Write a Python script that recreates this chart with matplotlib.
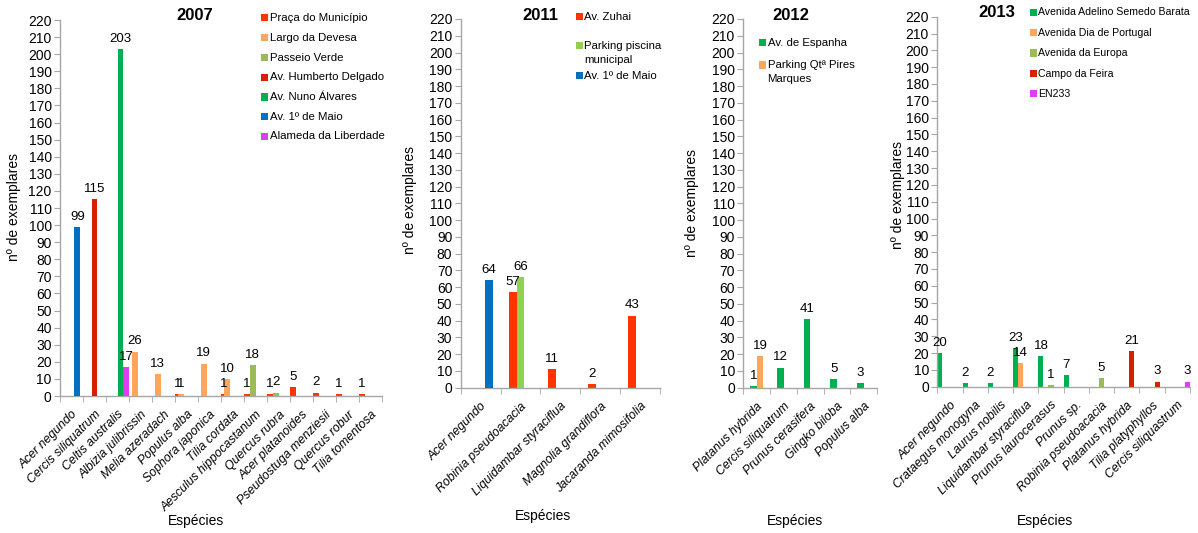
import numpy as np
import matplotlib
matplotlib.use("Agg")
import matplotlib.pyplot as plt
from matplotlib.patches import Rectangle

plt.rcParams["font.family"] = ["Liberation Sans", "DejaVu Sans"]

W, H = 1198, 533

# colours (Excel palette)
RED = "#FF3300"
ORANGE = "#FFA65C"
OLIVE = "#9BBB59"
DARKRED = "#D42200"
GREEN = "#00B050"
BLUE = "#0070C0"
MAGENTA = "#E03CF5"
LIGHTGREEN = "#92D050"

# ---- 2007 ----
species_2007 = ["Acer negundo", "Cercis siliquatrum", "Celtis australis", "Albizia julibrissin",
                "Melia azeradach", "Populus alba", "Sophora japonica", "Tilia cordata",
                "Aesculus hippocastanum", "Quercus rubra", "Acer platanoides",
                "Pseudostuga menziesii", "Quercus robur", "Tilia tomentosa"]
series_2007 = ["Praça do Município", "Largo da Devesa", "Passeio Verde", "Av. Humberto Delgado",
               "Av. Nuno Álvares", "Av. 1º de Maio", "Alameda da Liberdade"]
praca_2007 = [0, 0, 0, 0, 0, 1, 0, 1, 1, 1, 5, 2, 1, 1]
devesa_2007 = [0, 0, 0, 26, 13, 1, 19, 10, 0, 0, 0, 0, 0, 0]
passeio_2007 = [0, 0, 0, 0, 0, 0, 0, 0, 18, 2, 0, 0, 0, 0]
humberto_2007 = [0, 115, 0, 0, 0, 0, 0, 0, 0, 0, 0, 0, 0, 0]
nuno_2007 = [0, 0, 203, 0, 0, 0, 0, 0, 0, 0, 0, 0, 0, 0]
maio_2007 = [99, 0, 0, 0, 0, 0, 0, 0, 0, 0, 0, 0, 0, 0]
alameda_2007 = [0, 0, 17, 0, 0, 0, 0, 0, 0, 0, 0, 0, 0, 0]

# ---- 2011 ----
species_2011 = ["Acer negundo", "Robinia pseudoacacia", "Liquidambar styraciflua",
                "Magnolia grandiflora", "Jacaranda mimosifolia"]
series_2011 = ["Av. Zuhai", "Parking piscina\nmunicipal", "Av. 1º de Maio"]
zuhai_2011 = [0, 57, 11, 2, 43]
piscina_2011 = [0, 66, 0, 0, 0]
maio_2011 = [64, 0, 0, 0, 0]

# ---- 2012 ----
species_2012 = ["Platanus hybrida", "Cercis siliquatrum", "Prunus cerasifera",
                "Gingko biloba", "Populus alba"]
series_2012 = ["Av. de Espanha", "Parking Qtª Pires\nMarques"]
espanha_2012 = [1, 12, 41, 5, 3]
pires_2012 = [19, 0, 0, 0, 0]

# ---- 2013 ----
species_2013 = ["Acer negundo", "Crataegus monogyna", "Laurus nobilis", "Liquidambar styraciflua",
                "Prunus laurocerasus", "Prunus sp.", "Robinia pseudoacacia", "Platanus hybrida",
                "Tilia platyphyllos", "Cercis siliquastrum"]
series_2013 = ["Avenida Adelino Semedo Barata", "Avenida Dia de Portugal", "Avenida da Europa",
               "Campo da Feira", "EN233"]
adelino_2013 = [20, 2, 2, 23, 18, 7, 0, 0, 0, 0]
portugal_2013 = [0, 0, 0, 14, 0, 0, 0, 0, 0, 0]
europa_2013 = [0, 0, 0, 0, 1, 0, 5, 0, 0, 0]
feira_2013 = [0, 0, 0, 0, 0, 0, 0, 21, 3, 0]
en233_2013 = [0, 0, 0, 0, 0, 0, 0, 0, 0, 3]

panels = [
    dict(title="2007", species=species_2007, names=series_2007,
         values=[praca_2007, devesa_2007, passeio_2007, humberto_2007, nuno_2007, maio_2007, alameda_2007],
         colors=[RED, ORANGE, OLIVE, DARKRED, GREEN, BLUE, MAGENTA],
         box=(60, 20, 382.3, 396), width=0.25, step=0.125,
         title_xy=(195, 15), ylab_xy=(14, 207), xlab_xy=(196, 521),
         leg_x=261, leg_rows=[17.7, 37.7, 57.7, 77.3, 97, 116.7, 136.3], leg_fs=8.2),
    dict(title="2011", species=species_2011, names=series_2011,
         values=[zuhai_2011, piscina_2011, maio_2011],
         colors=[RED, LIGHTGREEN, BLUE],
         box=(460.7, 19, 660, 387.7), width=0.2, step=0.2,
         title_xy=(540, 15), ylab_xy=(410, 200), xlab_xy=(543, 516),
         leg_x=576, leg_rows=[16.7, 45.7, 75.7], leg_fs=8.2),
    dict(title="2012", species=species_2012, names=series_2012,
         values=[espanha_2012, pires_2012],
         colors=[GREEN, ORANGE],
         box=(743.3, 19, 877.3, 387.7), width=0.25, step=0.25,
         title_xy=(791, 15), ylab_xy=(692, 203), xlab_xy=(795, 521),
         leg_x=759, leg_rows=[42.7, 65], leg_fs=8.2),
    dict(title="2013", species=species_2013, names=series_2013,
         values=[adelino_2013, portugal_2013, europa_2013, feira_2013, en233_2013],
         colors=[GREEN, ORANGE, OLIVE, DARKRED, MAGENTA],
         box=(937.3, 16.7, 1190, 386.7), width=0.2, step=0.2,
         title_xy=(997, 12.7), ylab_xy=(898, 195), xlab_xy=(1045, 521),
         leg_x=1030, leg_rows=[12.3, 32.7, 53, 73.7, 94], leg_fs=7.6),
]

fig = plt.figure(figsize=(W / 100, H / 100), dpi=100)
AXC = "#A6A6A6"


def fx(x):
    return x / W


def fy(y):
    return 1 - y / H


for p in panels:
    x0, y0, x1, y1 = p["box"]
    ax = fig.add_axes([fx(x0), fy(y1), (x1 - x0) / W, (y1 - y0) / H])
    n_cat = len(p["species"])
    n_ser = len(p["values"])
    xs = np.arange(n_cat)
    for k, (vals, col) in enumerate(zip(p["values"], p["colors"])):
        off = (k - (n_ser - 1) / 2) * p["step"]
        bars = ax.bar(xs + off, vals, width=p["width"], color=col, linewidth=0, zorder=2 + k)
        labels = [str(v) if v else "" for v in vals]
        ax.bar_label(bars, labels=labels, padding=3, fontsize=9.5, zorder=20)
    ax.set_xlim(-0.5, n_cat - 0.5)
    ax.set_ylim(0, 220)
    ax.set_yticks(np.arange(0, 221, 10))
    ax.set_xticks(xs)
    ax.set_xticklabels(p["species"], rotation=45, ha="right", va="top",
                       rotation_mode="anchor", fontstyle="italic", fontsize=8.8)
    ax.set_xticks(np.arange(-0.5, n_cat, 1), minor=True)
    ax.tick_params(axis="x", which="major", length=0, pad=9)
    ax.tick_params(axis="x", which="minor", length=4, color=AXC, direction="out")
    ax.tick_params(axis="y", length=4, color=AXC, direction="out", labelsize=10, pad=2)
    for s in ["top", "right"]:
        ax.spines[s].set_visible(False)
    for s in ["left", "bottom"]:
        ax.spines[s].set_color(AXC)
        ax.spines[s].set_linewidth(1)
    ax.patch.set_alpha(0)

    fig.text(fx(p["title_xy"][0]), fy(p["title_xy"][1]), p["title"], ha="center", va="center",
             fontsize=12, fontweight="bold")
    fig.text(fx(p["ylab_xy"][0]), fy(p["ylab_xy"][1]), "nº de exemplares", rotation=90,
             ha="center", va="center", fontsize=10)
    fig.text(fx(p["xlab_xy"][0]), fy(p["xlab_xy"][1]), "Espécies", ha="center", va="center",
             fontsize=10)

    # legend drawn by hand so wrapped names keep the square on the first line
    for name, col, ry in zip(p["names"], p["colors"], p["leg_rows"]):
        fig.patches.append(Rectangle((fx(p["leg_x"]), fy(ry + 3.5)), 6.5 / W, 7 / H,
                                     transform=fig.transFigure, color=col, linewidth=0))
        for j, line in enumerate(name.split("\n")):
            fig.text(fx(p["leg_x"] + 8.5), fy(ry + j * 14), line, ha="left", va="center",
                     fontsize=p["leg_fs"])

fig.savefig("out.png", dpi=100)
